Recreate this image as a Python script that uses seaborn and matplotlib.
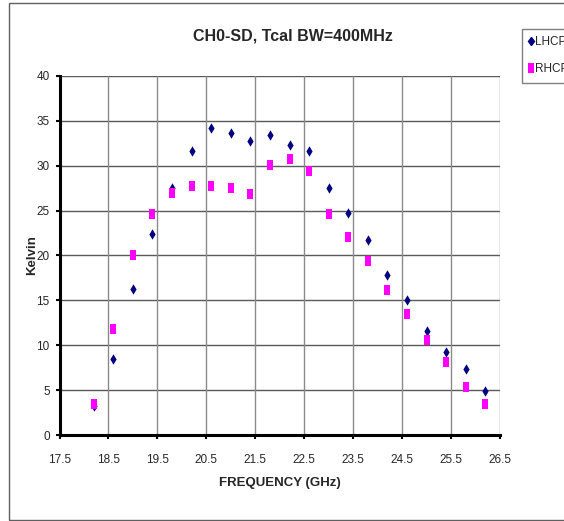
import matplotlib
matplotlib.use("Agg")
import matplotlib.pyplot as plt
from matplotlib.patches import Rectangle
from matplotlib.lines import Line2D
import seaborn as sns
import pandas as pd

freq = [18.2, 18.6, 19.0, 19.4, 19.8, 20.2, 20.6, 21.0, 21.4, 21.8, 22.2,
        22.6, 23.0, 23.4, 23.8, 24.2, 24.6, 25.0, 25.4, 25.8, 26.2]
lhcp = [3.2, 8.5, 16.3, 22.4, 27.5, 31.6, 34.2, 33.7, 32.8, 33.4, 32.3,
        31.6, 27.5, 24.7, 21.7, 17.8, 15.0, 11.6, 9.2, 7.3, 4.9]
rhcp = [3.5, 11.8, 20.1, 24.6, 27.0, 27.7, 27.7, 27.5, 26.9, 30.1, 30.7,
        29.4, 24.6, 22.1, 19.4, 16.2, 13.5, 10.6, 8.1, 5.3, 3.4]
series = ["LHCP", "RHCP"]
xticks = [17.5, 18.5, 19.5, 20.5, 21.5, 22.5, 23.5, 24.5, 25.5, 26.5]
yticks = [0, 5, 10, 15, 20, 25, 30, 35, 40]

df = pd.concat([
    pd.DataFrame({"freq": freq, "K": lhcp, "pol": series[0]}),
    pd.DataFrame({"freq": freq, "K": rhcp, "pol": series[1]}),
])

sns.set_style("white")
plt.rcParams["font.family"] = ["Liberation Sans Narrow", "Liberation Sans", "DejaVu Sans"]

W, H = 564, 521
fig = plt.figure(figsize=(W / 100, H / 100), dpi=100)
ax = fig.add_axes([59.5 / W, 1 - 435 / H, (500 - 59.5) / W, (435 - 76) / H])

rect_marker = [(-0.35, -0.5), (0.35, -0.5), (0.35, 0.5), (-0.35, 0.5), (-0.35, -0.5)]
colors = {"LHCP": "#000080", "RHCP": "#FF00FF"}
markers = {"LHCP": "d", "RHCP": rect_marker}
sizes = {"LHCP": 28, "RHCP": 50}

for s in series:
    sns.scatterplot(data=df[df.pol == s], x="freq", y="K", color=colors[s],
                    marker=markers[s], s=sizes[s], linewidth=0, ax=ax,
                    legend=False, zorder=3 if s == "LHCP" else 4)

ax.set_xlim(17.5, 26.5)
ax.set_ylim(0, 40)
ax.set_xticks(xticks)
ax.set_yticks(yticks)
ax.set_xticklabels([f"{t:.1f}" for t in xticks], fontsize=8.5)
ax.set_yticklabels([str(t) for t in yticks], fontsize=8.5)
for t in yticks[1:]:
    ax.axhline(t, color="#5a5a5a", lw=1.0, zorder=1)
for t in xticks[1:]:
    ax.axvline(t, color="#8a8a8a", lw=1.0, zorder=1)

for side in ["top", "right"]:
    ax.spines[side].set_visible(False)
for side in ["left", "bottom"]:
    ax.spines[side].set_color("black")
    ax.spines[side].set_linewidth(2.2)
ax.tick_params(axis="both", direction="out", length=3, width=1.5, color="black",
               bottom=True, left=True)
ax.tick_params(axis="x", pad=11)
ax.tick_params(axis="y", pad=4)

ax.set_xlabel("FREQUENCY (GHz)", fontsize=9.5, fontweight="bold")
ax.set_ylabel("Kelvin", fontsize=9.5, fontweight="bold")
ax.xaxis.set_label_coords((280 - 59.5) / (500 - 59.5), -(483 - 435) / (435 - 76))
ax.yaxis.set_label_coords(-(59.5 - 32) / (500 - 59.5), (435 - 255) / (435 - 76))
ax.xaxis.label.set_va("center")
ax.yaxis.label.set_va("center")
fig.text(293 / W, 1 - 36 / H, "CH0-SD, Tcal BW=400MHz", ha="center", va="center",
         fontsize=11.5, fontweight="bold")

fig.patches.append(Rectangle((8.5 / W, 1.0 / H), 1.2, (518 - 1.0) / H,
                             transform=fig.transFigure, fill=False,
                             edgecolor="#606060", lw=1.0))

handles = [Line2D([], [], ls="none", marker="d", color=colors["LHCP"], markersize=4.5),
           Line2D([], [], ls="none", marker=rect_marker, color=colors["RHCP"],
                  markersize=7, markeredgewidth=0)]
leg = fig.legend(handles, series, loc="upper left",
                 bbox_to_anchor=(522 / W, 1 - 29 / H), frameon=True,
                 fontsize=8.5, handlelength=0.3, handletextpad=0.2,
                 borderpad=0.6, labelspacing=1.3, fancybox=False,
                 borderaxespad=0)
leg.get_frame().set_edgecolor("#606060")
leg.get_frame().set_linewidth(1.0)

fig.savefig("out.png", dpi=100)
